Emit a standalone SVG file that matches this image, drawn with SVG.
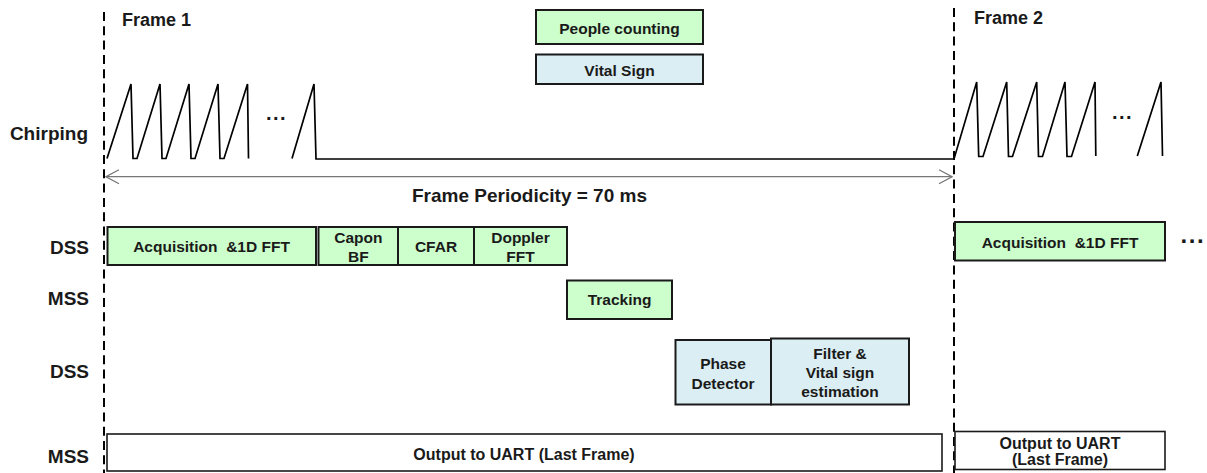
<svg xmlns="http://www.w3.org/2000/svg" width="1207" height="473" viewBox="0 0 1207 473">
<defs>
<style>
text{font-family:"Liberation Sans",Arial,sans-serif;font-weight:bold;fill:#1a1a1a}
.lbl{font-size:19px;text-anchor:end}
.frm{font-size:18px}
.bt{font-size:15.5px;text-anchor:middle}
.ot{font-size:16px;text-anchor:middle}
.g{fill:#ccffcc;stroke:#1a1a1a;stroke-width:2}
.b{fill:#daeef3;stroke:#1a1a1a;stroke-width:2}
.w{fill:#ffffff;stroke:#1a1a1a;stroke-width:1.6}
.dash{stroke:#000;stroke-width:2;stroke-dasharray:9 5.3;fill:none}
.chirp{fill:none;stroke:#000;stroke-width:1.7;stroke-linejoin:miter}
.dots{font-size:20px;letter-spacing:1.5px}
</style>
<marker id="oa" viewBox="-15 -8 16 16" refX="0" refY="0" markerWidth="16" markerHeight="16" markerUnits="userSpaceOnUse" orient="auto-start-reverse">
<path d="M-13,-7 L0,0 L-13,7" fill="none" stroke="#777" stroke-width="1.3"/>
</marker>
</defs>
<rect width="1207" height="473" fill="#fff"/>

<g id="frame-lines">
<line class="dash" x1="104" y1="12" x2="104" y2="473"/>
<line class="dash" x1="954" y1="8" x2="954" y2="473"/>
</g>

<g id="labels">
<text class="frm" x="122" y="26">Frame 1</text>
<text class="frm" x="974" y="24">Frame 2</text>
<text class="lbl" x="88" y="140">Chirping</text>
<text class="lbl" x="89" y="253.5">DSS</text>
<text class="lbl" x="89" y="305">MSS</text>
<text class="lbl" x="89" y="378">DSS</text>
<text class="lbl" x="89" y="462.5">MSS</text>
<text x="529.5" y="201.5" style="font-size:19px;text-anchor:middle">Frame Periodicity = 70 ms</text>
</g>

<g id="chirping">
<path class="chirp" d="M107,158.5 L131,84 L133,158.5 L137,158.5 L160,84 L162,158.5 L166,158.5 L189,84 L191,158.5 L195,158.5 L218,84 L220,158.5 L224,158.5 L247.5,84 L248.5,158.5"/>
<text class="dots" x="266" y="120">...</text>
<path class="chirp" d="M292,158.5 L314,84 L316,159 L954,159 L976.7,82 L978.7,156.5 L983,156.5 L1006.7,82 L1008.5,156.5 L1012.5,156.5 L1036.7,82 L1038.5,156.5 L1042.5,156.5 L1065,82 L1067,156.5 L1071.5,156.5 L1095,82 L1095.8,156"/>
<text class="dots" x="1112" y="119">...</text>
<path class="chirp" d="M1137.3,156 L1161,82 L1162.5,156"/>
</g>

<g id="connectors">
<line x1="106" y1="176.7" x2="952" y2="176.7" stroke="#777" stroke-width="1.3" marker-start="url(#oa)" marker-end="url(#oa)"/>
</g>

<g id="people-counting">
<rect class="g" x="536" y="10" width="167" height="34"/>
<text class="bt" x="619.5" y="33.5">People counting</text>
</g>
<g id="vital-sign">
<rect class="b" x="536" y="54.5" width="167" height="29.5"/>
<text class="bt" x="619.5" y="75.5">Vital Sign</text>
</g>

<g id="acq1">
<rect class="g" x="107.5" y="227" width="208.5" height="38"/>
<text class="bt" x="211.5" y="251.7" xml:space="preserve">Acquisition  &amp;1D FFT</text>
</g>
<g id="capon">
<rect class="g" x="318.5" y="227" width="79.5" height="38"/>
<text class="bt" x="358.3" y="242.7">Capon</text>
<text class="bt" x="358.3" y="261.7">BF</text>
</g>
<g id="cfar">
<rect class="g" x="398" y="227" width="76" height="38"/>
<text class="bt" x="436" y="251.7">CFAR</text>
</g>
<g id="doppler">
<rect class="g" x="474" y="227" width="93" height="38"/>
<text class="bt" x="520.5" y="242.7">Doppler</text>
<text class="bt" x="520.5" y="261.7">FFT</text>
</g>
<g id="tracking">
<rect class="g" x="567" y="280.5" width="105" height="38.5"/>
<text class="bt" x="619.5" y="305">Tracking</text>
</g>
<g id="phase">
<rect class="b" x="675.5" y="340" width="95.5" height="64.5"/>
<text class="bt" x="723" y="369">Phase</text>
<text class="bt" x="723" y="388.7">Detector</text>
</g>
<g id="filter">
<rect class="b" x="771" y="338.5" width="138" height="66"/>
<text class="bt" x="840" y="359">Filter &amp;</text>
<text class="bt" x="840" y="377.8">Vital sign</text>
<text class="bt" x="840" y="396.5">estimation</text>
</g>
<g id="output1">
<rect class="w" x="107" y="434" width="835" height="37"/>
<text class="ot" x="524" y="459.7">Output to UART (Last Frame)</text>
</g>
<g id="acq2">
<rect class="g" x="955" y="222" width="210" height="38.5"/>
<text class="bt" x="1060" y="247.7" xml:space="preserve">Acquisition  &amp;1D FFT</text>
</g>
<text x="1180.5" y="242.5" style="font-size:24px;letter-spacing:1.6px">...</text>
<g id="output2">
<rect class="w" x="955" y="431.5" width="210" height="38"/>
<text class="ot" x="1060" y="449">Output to UART</text>
<text class="ot" x="1060" y="465">(Last Frame)</text>
</g>
</svg>
